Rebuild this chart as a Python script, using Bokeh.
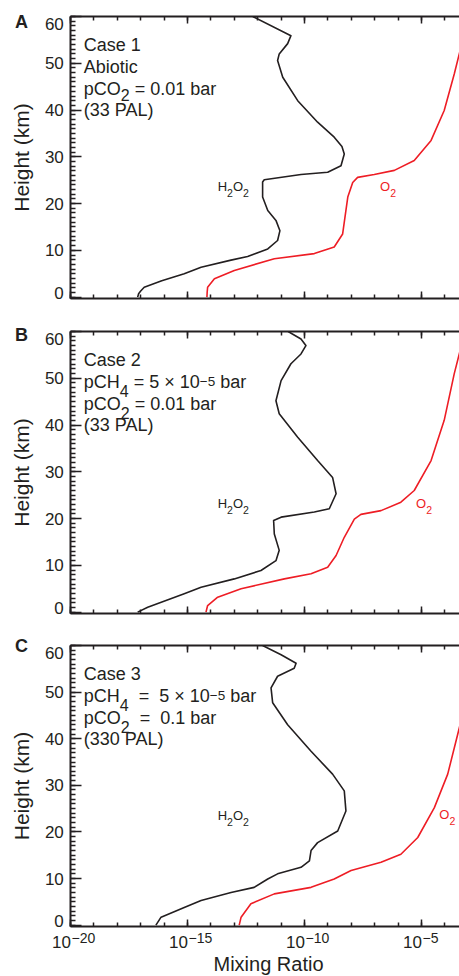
import re
import math
import numpy as np
from bokeh.plotting import figure
from bokeh.models import FixedTicker, SingleIntervalTicker, LogAxis, LinearAxis, Label, Range1d
from bokeh.layouts import column, row
from bokeh.embed import file_html
from bokeh.resources import INLINE

# ---------------- data: height (km) and log10(mixing ratio) ----------------
a_h2o2_km = [0, 0.7, 1.3, 2.1, 3.5, 5.0, 6.4, 7.9, 8.7, 10.3, 12.1, 14.2, 16.4, 18.5, 21.4, 24.6,
             25.1, 26.2, 26.7, 28.1, 30.6, 32.2, 34.2, 37.4, 42.0, 47.0, 50.6, 52.0, 54.2, 55.9,
             60.0]
a_h2o2_exp = [-17.13, -17.09, -17.00, -16.85, -16.10, -15.14, -14.42, -13.14, -12.43, -11.57,
              -11.15, -11.05, -11.22, -11.57, -11.79, -11.79, -11.72, -10.15, -9.01, -8.44, -8.30,
              -8.40, -8.73, -9.44, -10.29, -10.93, -11.15, -11.08, -10.72, -10.58, -12.21]
a_o2_km = [0, 1.0, 2.1, 3.9, 5.7, 8.2, 9.3, 10.7, 13.5, 17.1, 21.4, 24.5, 25.6, 26.2, 27.1, 29.2,
           33.5, 39.9, 47.7, 52.7]
a_o2_exp = [-14.17, -14.16, -14.14, -13.85, -13.0, -11.29, -9.58, -8.73, -8.37, -8.27, -8.15,
            -7.94, -7.73, -7.02, -6.16, -5.31, -4.59, -4.03, -3.60, -3.35]

b_h2o2_km = [0, 1.05, 3.9, 5.3, 7.1, 8.9, 11.0, 13.2, 16.7, 19.6, 20.3, 21.4, 22.1, 25.3, 28.8,
             32.4, 37.4, 42.4, 45.2, 49.5, 53.1, 55.2, 57.0, 58.4, 60.0]
b_h2o2_exp = [-17.13, -16.70, -15.14, -14.42, -13.0, -11.86, -11.22, -11.08, -11.29, -11.32,
              -11.0, -9.58, -8.94, -8.65, -8.80, -9.44, -10.29, -11.08, -11.22, -11.0, -10.58,
              -10.15, -9.94, -10.15, -10.70]
b_o2_km = [0, 1.4, 3.2, 5.0, 7.1, 8.2, 9.6, 12.1, 16.0, 19.9, 20.9, 21.7, 23.5, 26.0, 32.4,
           41.0, 51.0, 55.9]
b_o2_exp = [-14.21, -14.14, -13.71, -12.71, -10.86, -9.72, -9.01, -8.65, -8.30, -7.87, -7.59,
            -6.73, -5.88, -5.31, -4.59, -4.03, -3.60, -3.35]

c_h2o2_km = [0, 1.7, 3.8, 5.3, 7.0, 8.1, 9.9, 11.0, 12.4, 13.8, 16.0, 17.7, 20.2, 24.5, 28.8,
             32.4, 37.3, 43.0, 47.7, 50.9, 53.4, 55.1, 56.2, 58.0, 60.0]
c_h2o2_exp = [-16.35, -16.13, -15.14, -14.42, -13.14, -12.15, -11.57, -11.15, -10.15, -9.79,
              -9.72, -9.44, -8.58, -8.23, -8.30, -8.80, -9.72, -10.72, -11.36, -11.43, -11.15,
              -10.44, -10.36, -11.0, -11.79]
c_o2_km = [0, 1.7, 4.6, 6.7, 8.1, 9.9, 11.7, 13.5, 15.2, 18.8, 25.2, 32.4, 43.0]
c_o2_exp = [-12.79, -12.71, -12.29, -11.29, -9.72, -8.73, -8.01, -6.73, -5.88, -5.16, -4.45,
            -3.88, -3.35]

y_ticks = [0, 10, 20, 30, 40, 50, 60]
x_tick_exps = [-20, -15, -10, -5]
x_tick_base = "10"
x_tick_sup = ["\u221220", "\u221215", "\u221210", "\u22125"]

panel_letters = ["A", "B", "C"]
notes_a = [[("Case 1", "n")], [("Abiotic", "n")],
           [("pCO", "n"), ("2", "sub"), (" = 0.01 bar", "n")], [("(33 PAL)", "n")]]
notes_b = [[("Case 2", "n")],
           [("pCH", "n"), ("4", "sub"), (" = 5 \u00d7 10", "n"), ("\u22125", "sup"), (" bar", "n")],
           [("pCO", "n"), ("2", "sub"), (" = 0.01 bar", "n")], [("(33 PAL)", "n")]]
notes_c = [[("Case 3", "n")],
           [("pCH", "n"), ("4", "sub"), ("  =  5 \u00d7 10", "n"), ("\u22125", "sup"), (" bar", "n")],
           [("pCO", "n"), ("2", "sub"), ("  =  0.1 bar", "n")], [("(330 PAL)", "n")]]
h2o2_label = [("H", "n"), ("2", "sub"), ("O", "n"), ("2", "sub")]
o2_label = [("O", "n"), ("2", "sub")]
x_title = "Mixing Ratio"
y_title = "Height (km)"

# ---------------- styling / layout ----------------
INK = "#231f20"
RED = "#ee1d25"
FONT = "Liberation Sans"
PX_PER_DEC = 23.4
LEFT_W = 66          # width of the tick-label strip
MAIN_BORDER = 4      # main figure's own left border
FRAME_W = 389
XMIN = 1e-20
XMAX = 10 ** (-20 + FRAME_W / PX_PER_DEC)
YMIN, YMAX = -0.3, 60
BASE_CORR = 0.38     # shift of alphabetic-baseline labels (in em)

W = {' ': 278, '(': 333, ')': 333, '.': 278, '=': 584, '\u00d7': 584, '\u2212': 584,
     'A': 667, 'B': 667, 'C': 722, 'H': 722, 'L': 556, 'O': 778, 'P': 667,
     'a': 556, 'b': 556, 'c': 500, 'e': 556, 'i': 222, 'o': 556, 'p': 556, 'r': 333,
     's': 500, 't': 278}


def tw(s, size):
    return sum(W.get(c, 556) for c in s) * size / 1000.0


def add_text(p, text, x, y, dx, dy, size, color=INK, align="left",
             baseline="alphabetic", style="normal", angle=0.0):
    corr = BASE_CORR * size if baseline == "alphabetic" else 0.0
    p.add_layout(Label(x=x, y=y, x_offset=dx, y_offset=-dy + corr, text=text, angle=angle,
                       text_font=FONT, text_font_size=f"{size}px", text_font_style=style,
                       text_color=color, text_align=align, text_baseline=baseline))


def add_rich(p, parts, x, y, dx, dy, sizes, shifts, color=INK):
    cur = dx
    for text, kind in parts:
        size = sizes[kind]
        for tok in re.split(r'( {2,})', text):
            if not tok:
                continue
            if tok.strip() == "":
                cur += tw(tok, size)
                continue
            lead = len(tok) - len(tok.lstrip(' '))
            add_text(p, tok.strip(' '), x, y, cur + tw(' ' * lead, size), dy + shifts[kind],
                     size, color)
            cur += tw(tok, size)


def style_axis(ax, maj, mnr, width=1.5):
    ax.axis_line_width = 2
    ax.axis_line_color = INK
    ax.major_tick_in = maj
    ax.major_tick_out = 0
    ax.minor_tick_in = mnr
    ax.minor_tick_out = 0
    ax.major_tick_line_width = width
    ax.minor_tick_line_width = width
    ax.major_tick_line_color = INK
    ax.minor_tick_line_color = INK
    ax.major_label_text_font_size = "1px"
    ax.major_label_text_color = None
    ax.major_label_standoff = 0


def bare(p):
    p.outline_line_color = None
    p.background_fill_color = "white"
    p.border_fill_color = "white"
    p.grid.visible = False


def make_panel(top, frame_h, bottom, notes, sub_dy, curves, h2o2_pos, o2_pos):
    height = top + frame_h + bottom
    p = figure(width=MAIN_BORDER + FRAME_W, height=height, x_axis_type="log",
               x_range=Range1d(XMIN, XMAX), y_range=Range1d(YMIN, YMAX),
               output_backend="svg", toolbar_location=None,
               min_border_left=MAIN_BORDER, min_border_right=0,
               min_border_top=top, min_border_bottom=bottom)
    bare(p)
    xt = FixedTicker(ticks=[10.0 ** e for e in x_tick_exps],
                     minor_ticks=[10.0 ** k for k in range(-20, -3)])
    p.xaxis[0].ticker = xt
    style_axis(p.xaxis[0], 7, 4)
    top_ax = LogAxis(ticker=xt)
    style_axis(top_ax, 7, 4)
    p.add_layout(top_ax, "above")

    # inner left axis: 1-km ticks; outer left axis: 10-km ticks
    p.yaxis[0].ticker = SingleIntervalTicker(interval=1, num_minor_ticks=0)
    style_axis(p.yaxis[0], 5, 0, 1.4)
    outer = LinearAxis(ticker=FixedTicker(ticks=y_ticks))
    style_axis(outer, 11, 0, 1.6)
    outer.axis_line_color = None
    p.add_layout(outer, "left")

    for km, ex, col in curves:
        p.line(x=10.0 ** np.array(ex), y=km, line_color=col, line_width=1.6,
               line_join="round")

    sizes = {"n": 18, "sub": 16, "sup": 13.5}
    shifts = {"n": 0, "sub": sub_dy, "sup": -2.5}
    for i, line in enumerate(notes):
        add_rich(p, line, XMIN, YMAX, 13.3, 35.7 + 21.7 * i, sizes, shifts)

    ssz = {"n": 13, "sub": 10.5}
    ssh = {"n": 0, "sub": 5.5}
    add_rich(p, h2o2_label, 10.0 ** h2o2_pos[0], h2o2_pos[1], 0, 0, ssz, ssh, INK)
    add_rich(p, o2_label, 10.0 ** o2_pos[0], o2_pos[1], 0, 0, ssz, ssh, RED)
    return p


# panel geometry: (top border, frame height, bottom border)
geo = [(16, 282, 8), (25, 282, 8), (24, 281, 4)]
letter_base = [12.3, 10.7, 7.0]   # letter baseline below frame top

pa = make_panel(*geo[0], notes_a, 5,
                [(a_h2o2_km, a_h2o2_exp, INK), (a_o2_km, a_o2_exp, RED)],
                (-13.71, 22.6), (-6.77, 22.6))
pb = make_panel(*geo[1], notes_b, 8.5,
                [(b_h2o2_km, b_h2o2_exp, INK), (b_o2_km, b_o2_exp, RED)],
                (-13.71, 22.1), (-5.23, 22.1))
pc = make_panel(*geo[2], notes_c, 8.5,
                [(c_h2o2_km, c_h2o2_exp, INK), (c_o2_km, c_o2_exp, RED)],
                (-13.71, 22.4), (-4.24, 22.7))

# left strip for all three panels (pixel coordinates, y downward)
TOTAL_H = sum(t + f + b for t, f, b in geo)
lp = figure(width=LEFT_W, height=TOTAL_H, x_range=Range1d(0, LEFT_W),
            y_range=Range1d(TOTAL_H, 0), output_backend="svg", toolbar_location=None,
            x_axis_location=None, y_axis_location=None,
            min_border_left=0, min_border_right=0, min_border_top=0, min_border_bottom=0)
bare(lp)
y0 = 0
for (t, f, b), letter, lb in zip(geo, panel_letters, letter_base):
    ftop = y0 + t
    s = f / (YMAX - YMIN)
    for tk in y_ticks:
        shift = 7.5 if tk == 60 else (-3.8 if tk == 0 else 0)
        add_text(lp, str(tk), LEFT_W - 2.7, ftop + (YMAX - tk) * s + shift, 0, 0, 17,
                 baseline="middle", align="right")
    add_text(lp, letter, 14.5, ftop + lb, 0, 0, 18, style="bold")
    add_text(lp, y_title, 21, ftop + f / 2, 0, 0, 21, align="center",
             baseline="middle", angle=math.pi / 2)
    y0 += t + f + b

# bottom strip: x tick labels and x title (same horizontal mapping)
BOT_H = 46
bp = figure(width=LEFT_W + MAIN_BORDER + FRAME_W, height=BOT_H, x_axis_type="log",
            x_range=Range1d(10 ** (-20 - (LEFT_W + MAIN_BORDER) / PX_PER_DEC), XMAX),
            y_range=Range1d(0, BOT_H), output_backend="svg", toolbar_location=None,
            x_axis_location=None, y_axis_location=None,
            min_border_left=0, min_border_right=0, min_border_top=0, min_border_bottom=0)
bare(bp)
for e, sup in zip(x_tick_exps, x_tick_sup):
    add_text(bp, x_tick_base, 10.0 ** e, BOT_H, 0.5, 18.3, 17, align="right")
    add_text(bp, sup, 10.0 ** e, BOT_H, 1.0, 13.3, 14)
add_text(bp, x_title, XMIN, BOT_H, 198, 41, 20, align="center")

layout = column(row(lp, column(pa, pb, pc)), bp)
open("out.html", "w").write(file_html(layout, INLINE))
